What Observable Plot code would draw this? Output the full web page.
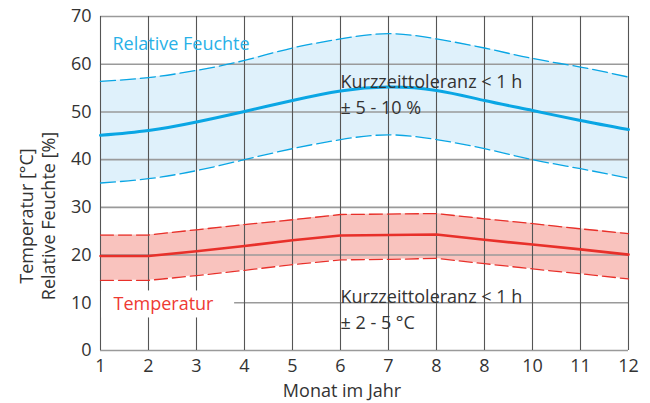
<!DOCTYPE html>
<html><head><meta charset="utf-8">
<script src="https://cdn.jsdelivr.net/npm/d3@7"></script>
<script src="https://cdn.jsdelivr.net/npm/@observablehq/plot@0.6"></script>
<style>body{margin:0;background:#fff;} svg{display:block;}</style>
</head><body><div id="chart"></div>
<script>
const months = [1,2,3,4,5,6,7,8,9,10,11,12];
const xTickLabels = ["1","2","3","4","5","6","7","8","8","10","11","12"];
const yTicks = [0,10,20,30,40,50,60,70];
const humidityMean  = [45.1,46.1,47.9,50.1,52.4,54.4,55.2,54.5,52.4,50.3,48.2,46.3];
const humidityHigh  = [56.4,57.2,58.7,60.8,63.4,65.3,66.4,65.3,63.4,61.2,59.4,57.3];
const humidityLow   = [35.1,36.0,37.7,40.0,42.3,44.2,45.2,44.2,42.3,40.0,38.1,36.1];
const tempMean = [19.8,19.8,20.8,21.9,23.1,24.1,24.2,24.3,23.2,22.2,21.2,20.1];
const tempHigh = [24.2,24.2,25.3,26.4,27.4,28.5,28.6,28.7,27.6,26.6,25.5,24.5];
const tempLow  = [14.7,14.7,15.7,16.8,18.0,19.0,19.1,19.3,18.2,17.1,16.1,15.0];

const hum = months.map((m,i)=>({m, mean:humidityMean[i], hi:humidityHigh[i], lo:humidityLow[i]}));
const tmp = months.map((m,i)=>({m, mean:tempMean[i], hi:tempHigh[i], lo:tempLow[i]}));

const blue = "#0aa6e4", blueFill = "#dff1fb", red = "#e8302a", redFill = "#f9c3be";
const font = "'Open Sans', sans-serif";
const fs = 18;

const chart = Plot.plot({
  width: 650, height: 403,
  marginLeft: 100, marginRight: 22, marginTop: 16, marginBottom: 53,
  style: {fontFamily: font, fontSize: fs + "px", color: "#333", background: "#fff"},
  x: {domain: [1,12], label: null},
  y: {domain: [0,70], label: null},
  marks: [
    Plot.areaY(hum, {x:"m", y1:"lo", y2:"hi", fill: blueFill, curve: "natural"}),
    Plot.areaY(tmp, {x:"m", y1:"lo", y2:"hi", fill: redFill}),
    Plot.ruleY(yTicks.filter(d=>d>0), {stroke: "#9a9a9a", strokeWidth: 1.6}),
    Plot.ruleY([0], {stroke: "#9a9a9a", strokeWidth: 1.6}),
    Plot.ruleX(months, {stroke: "#555", strokeWidth: 1.1}),
    Plot.text(["Temperatur"], {x: 1, y: 9.6, text: d=>d, textAnchor: "start", dx: 13, fill: "#ee3a33", fontSize: fs, lineAnchor: "middle", className: "templabel"}),
    Plot.lineY(hum, {x:"m", y:"hi", stroke: blue, strokeWidth: 1.3, strokeDasharray: "15,5", curve: "natural"}),
    Plot.lineY(hum, {x:"m", y:"lo", stroke: blue, strokeWidth: 1.3, strokeDasharray: "15,5", curve: "natural"}),
    Plot.lineY(hum, {x:"m", y:"mean", stroke: blue, strokeWidth: 3, curve: "natural"}),
    Plot.lineY(tmp, {x:"m", y:"hi", stroke: red, strokeWidth: 1.3, strokeDasharray: "13,5"}),
    Plot.lineY(tmp, {x:"m", y:"lo", stroke: red, strokeWidth: 1.3, strokeDasharray: "13,5"}),
    Plot.lineY(tmp, {x:"m", y:"mean", stroke: red, strokeWidth: 2.6}),
    Plot.text(["Relative Feuchte"], {x: 1, y: 64.1, text: d=>d, textAnchor: "start", dx: 12, fill: "#29b1e7", fontSize: fs, lineAnchor: "middle"}),
    Plot.text(["Kurzzeittoleranz < 1 h\n± 5 - 10 %"], {x: 6, y: 58.85, text: d=>d, textAnchor: "start", dx: 0, lineAnchor: "top", lineHeight: 1.44, fill: "#333", fontSize: fs}),
    Plot.text(["Kurzzeittoleranz < 1 h\n± 2 - 5 °C"], {x: 6, y: 13.8, text: d=>d, textAnchor: "start", dx: 0, lineAnchor: "top", lineHeight: 1.44, fill: "#333", fontSize: fs}),
    Plot.axisX({ticks: months, tickFormat: d=>xTickLabels[months.indexOf(d)], tickSize: 0, tickPadding: 9, fontSize: fs, fill: "#333", label: null}),
    Plot.axisY({ticks: yTicks, tickSize: 0, tickPadding: 9, fontSize: fs, fill: "#333", label: null})
  ]
});

document.getElementById("chart").appendChild(chart);
const svg = d3.select(chart);

// white background box behind "Temperatur" label (gridlines are cut there)
const tl = svg.select("g.templabel text");
if (!tl.empty()) {
  const r = tl.node().getBoundingClientRect();
  const s = chart.getBoundingClientRect();
  const left = 101, right = r.right - s.left + 20;
  const top = r.top - s.top - 1, bottom = r.bottom - s.top + 2;
  svg.insert("rect", "g.templabel")
    .attr("x", left).attr("y", top)
    .attr("width", right - left).attr("height", bottom - top)
    .attr("fill", "#fff");
}
// x axis title
svg.append("text").attr("x", 342).attr("y", 397).attr("text-anchor", "middle")
  .attr("fill", "#333").style("font-size", fs + "px").text("Monat im Jahr");
// y axis title (two lines)
const yt = svg.append("text").attr("transform", "translate(33,216) rotate(-90)")
  .attr("text-anchor", "middle").attr("fill", "#333").style("font-size", fs + "px");
yt.append("tspan").attr("x", 0).attr("dy", 0).text("Temperatur [°C]");
yt.append("tspan").attr("x", 0).attr("dy", "1.2em").text("Relative Feuchte [%]");
</script>
</body></html>
